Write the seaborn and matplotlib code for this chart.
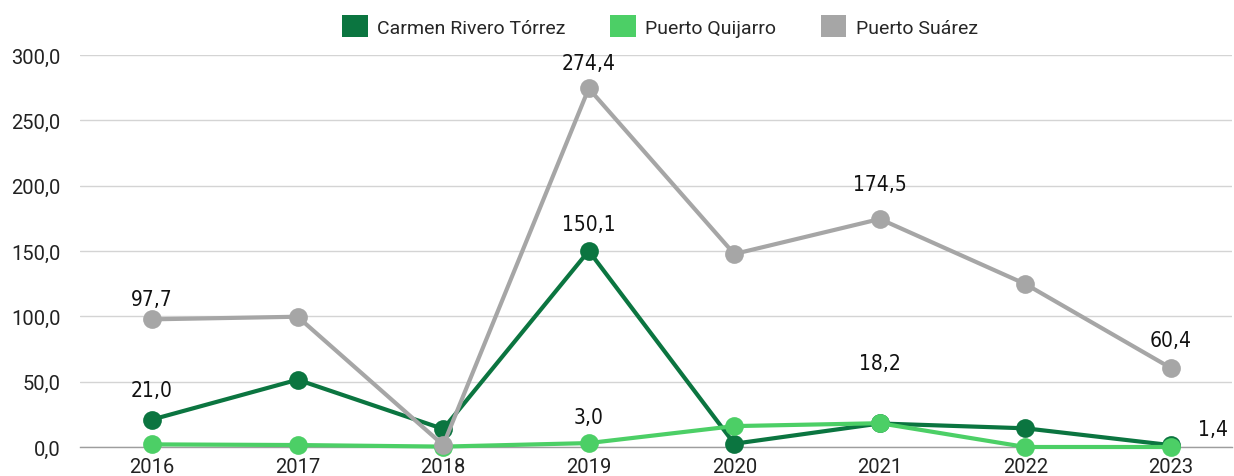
import numpy as np
import pandas as pd
import matplotlib
matplotlib.use('Agg')
import matplotlib.pyplot as plt
import seaborn as sns
from matplotlib.patches import Patch

# Data
years = [2016, 2017, 2018, 2019, 2020, 2021, 2022, 2023]
carmen = [21.0, 51.5, 13.8, 150.1, 2.5, 18.0, 14.3, 1.4]
quijarro = [2.0, 1.5, 0.3, 3.0, 16.0, 18.2, 0.0, 0.0]
suarez = [97.7, 99.7, 1.5, 274.4, 147.7, 174.5, 124.7, 60.4]
series = ['Carmen Rivero Tórrez', 'Puerto Quijarro', 'Puerto Suárez']
colors = ['#0b7540', '#4ccf66', '#a6a6a6']

# which points carry a value label: (series, year, dx, dy in points)
labels = [
    ('Carmen Rivero Tórrez', 2016, 0, 21),
    ('Puerto Suárez', 2016, 0, 15),
    ('Carmen Rivero Tórrez', 2019, 0, 19),
    ('Puerto Quijarro', 2019, 0, 19),
    ('Puerto Suárez', 2019, 0, 18),
    ('Puerto Suárez', 2021, 0, 25),
    ('Puerto Quijarro', 2021, 0, 43),
    ('Puerto Suárez', 2023, 0, 20),
    ('Carmen Rivero Tórrez', 2023, 30, 12),
]

df = pd.DataFrame({'year': years * 3,
                   'value': carmen + quijarro + suarez,
                   'serie': [s for s in series for _ in years]})

sns.set_theme(style='white')
plt.rcParams['font.family'] = ['Roboto', 'DejaVu Sans']

fig = plt.figure(figsize=(12.34, 4.77), dpi=100)
ax = fig.add_axes([80 / 1234, 1 - 448 / 477, 1152 / 1234, 392 / 477])

sns.lineplot(data=df, x='year', y='value', hue='serie', hue_order=series,
             palette=colors, marker='o', markersize=13.5, markeredgewidth=0,
             linewidth=3, legend=False, ax=ax, zorder=3)
for line in ax.lines:
    line.set_clip_on(False)

ax.set_xlim(2015.505, 2023.419)
ax.set_ylim(0, 300)
ax.set_yticks(np.arange(0, 301, 50))
ax.set_yticklabels([f'{v:.1f}'.replace('.', ',') for v in np.arange(0, 301, 50)])
ax.set_xticks(years)
ax.set_xticklabels([str(y) for y in years])
ax.tick_params(axis='both', labelsize=14.5, colors='#222222', length=0)
ax.tick_params(axis='y', pad=14)
ax.tick_params(axis='x', pad=7)
ax.set_xlabel('')
ax.set_ylabel('')
ax.grid(axis='y', color='#d4d4d4', linewidth=1)
ax.set_axisbelow(True)
for side in ['top', 'right', 'left']:
    ax.spines[side].set_visible(False)
ax.spines['bottom'].set_color('#9e9e9e')
ax.spines['bottom'].set_linewidth(1)

lookup = {'Carmen Rivero Tórrez': carmen, 'Puerto Quijarro': quijarro, 'Puerto Suárez': suarez}
for s, yr, dx, dy in labels:
    v = lookup[s][years.index(yr)]
    ax.annotate(f'{v:.1f}'.replace('.', ','), (yr, v), xytext=(dx, dy),
                textcoords='offset points', ha='center', va='center',
                fontsize=15, color='#111111', family='DejaVu Sans',
                fontstretch='condensed')

handles = [Patch(facecolor=c, edgecolor='none') for c in colors]
fig.legend(handles, series, loc='center', bbox_to_anchor=(0.535, 1 - 27 / 477),
           ncol=3, frameon=False, fontsize=14, handlelength=1.3, handleheight=1.3,
           handletextpad=0.5, columnspacing=2.3)

fig.savefig('out.png', dpi=100)
